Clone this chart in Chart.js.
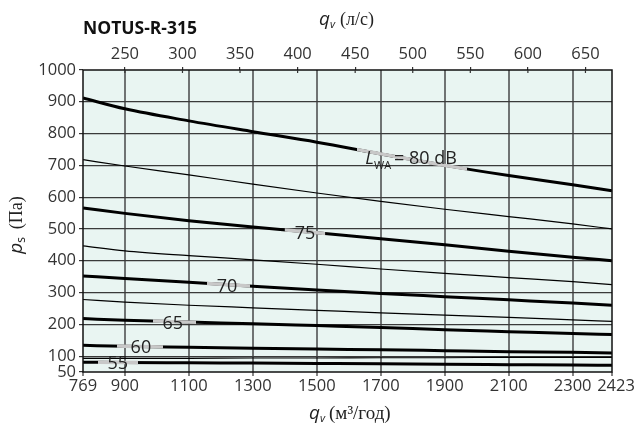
<!DOCTYPE html>
<html><head><meta charset="utf-8">
<script src="https://cdn.jsdelivr.net/npm/chart.js@4/dist/chart.umd.min.js"></script>
<style>html,body{margin:0;padding:0;background:#fff}#wrap{width:636px;height:423px;position:relative}</style>
</head><body><div id="wrap"><canvas id="c" width="636" height="423"></canvas></div>
<script>
// ---- data ----
const flowM3h = [769, 900, 1100, 1300, 1500, 1700, 1900, 2100, 2300, 2423];
const db80  = [912, 878, 840, 806, 773, 736, 700, 668, 639, 620];
const db775 = [718, 698, 670, 641, 613, 587, 562, 539, 516, 500];
const db75  = [566, 549, 526, 506, 488, 469, 450, 430, 411, 400];
const db725 = [447, 431, 416, 403, 389, 374, 360, 347, 334, 325];
const db70  = [352, 344, 332, 320, 308, 297, 287, 277, 267, 260];
const db675 = [278, 270, 260, 252, 244, 236, 229, 222, 214, 209];
const db65  = [218, 213, 207, 202, 196, 190, 183, 177, 171, 168];
const db60  = [134, 131, 128, 125, 122, 120, 117, 114, 112, 110];
const db575 = [93, 93, 93, 94, 94, 95, 95, 96, 96, 96];
const db55  = [81, 80, 79, 78, 77, 76, 74, 73, 72, 71];

const bottomTicks = [769, 900, 1100, 1300, 1500, 1700, 1900, 2100, 2300, 2423];
const topTicks = [250, 300, 350, 400, 450, 500, 550, 600, 650];
const yTicks = [50, 100, 200, 300, 400, 500, 600, 700, 800, 900, 1000];

const curveLabels = ['80', '75', '70', '65', '60', '55'];
const labelFlow   = [1795, 1463, 1219, 1050, 950, 878];
const labelPs     = [726, 488, 322, 206, 131, 79];
const gapFrom     = [1626, 1400, 1157, 988, 875, 816];
const gapTo       = [1970, 1526, 1291, 1122, 1019, 941];

const titleText = 'NOTUS-R-315';
const FONT = '"Open Sans", "Noto Sans", sans-serif';
const SERIF = '"Liberation Serif", "DejaVu Serif", serif';
const TICK_SIZE = 16.5;

const series = [
  {v: db80, w: 3}, {v: db775, w: 1.2}, {v: db75, w: 3}, {v: db725, w: 1.2},
  {v: db70, w: 3}, {v: db675, w: 1.2}, {v: db65, w: 3}, {v: db60, w: 3},
  {v: db575, w: 1.1}, {v: db55, w: 3}
];
const labeledIdx = [0, 2, 4, 6, 7, 9];

const datasets = series.map(s => ({
  data: flowM3h.map((x, i) => ({x: x, y: s.v[i]})),
  borderColor: '#000', borderWidth: s.w, pointRadius: 0,
  cubicInterpolationMode: 'monotone', fill: false, xAxisID: 'x', yAxisID: 'y'
}));

function drawRich(ctx, parts, x, y, align) {
  let w = 0;
  parts.forEach(p => { ctx.font = p.font; p.w = ctx.measureText(p.t).width; w += p.w + (p.gap || 0); });
  let cx = align === 'center' ? x - w / 2 : x;
  ctx.textAlign = 'left'; ctx.textBaseline = 'alphabetic';
  parts.forEach(p => { ctx.font = p.font; ctx.fillText(p.t, cx, y + (p.dy || 0)); cx += p.w + (p.gap || 0); });
}

const bgPlugin = {
  id: 'bg',
  beforeDraw(chart) {
    const {ctx, chartArea: a} = chart;
    ctx.save(); ctx.fillStyle = '#e9f5f2';
    ctx.fillRect(a.left, a.top, a.right - a.left, a.bottom - a.top); ctx.restore();
  }
};

const lastBottom = bottomTicks[bottomTicks.length - 1];

const overlayPlugin = {
  id: 'overlay',
  afterDatasetsDraw(chart) {
    const {ctx, chartArea: a, scales} = chart;
    const xs = scales.x, ys = scales.y;
    labeledIdx.forEach((di, k) => {
      const el = chart.getDatasetMeta(di).dataset;
      const x1 = xs.getPixelForValue(gapFrom[k]), x2 = xs.getPixelForValue(gapTo[k]);
      ctx.save();
      ctx.beginPath(); ctx.rect(x1, a.top, x2 - x1, a.bottom - a.top); ctx.clip();
      ctx.beginPath(); el.path(ctx);
      ctx.strokeStyle = '#c8c8c8'; ctx.lineWidth = 3.4; ctx.lineCap = 'butt'; ctx.stroke();
      ctx.restore();
    });
    ctx.save(); ctx.fillStyle = '#222';
    labeledIdx.forEach((di, k) => {
      const px = xs.getPixelForValue(labelFlow[k]);
      const py = ys.getPixelForValue(labelPs[k]) + 6.5;
      if (k === 0) {
        drawRich(ctx, [
          {t: 'L', font: 'italic 18px ' + FONT},
          {t: 'WA', font: '11px ' + FONT, dy: 5, gap: 3},
          {t: '= 80 dB', font: '18px ' + FONT}
        ], px, py, 'center');
      } else {
        ctx.font = '18px ' + FONT; ctx.textAlign = 'center'; ctx.textBaseline = 'alphabetic';
        ctx.fillText(curveLabels[k], px, py);
      }
    });
    ctx.restore();
    ctx.save();
    ctx.strokeStyle = '#111'; ctx.lineWidth = 1.5;
    ctx.strokeRect(a.left, a.top, a.right - a.left, a.bottom - a.top);
    const x2s = scales.x2;
    ctx.lineWidth = 1.2; ctx.strokeStyle = '#333';
    topTicks.forEach(t => {
      const p = x2s.getPixelForValue(t);
      ctx.beginPath(); ctx.moveTo(p, a.top); ctx.lineTo(p, a.top + 3); ctx.stroke();
    });
    ctx.restore();
  },
  afterDraw(chart) {
    const {ctx, scales} = chart;
    ctx.save();
    ctx.fillStyle = '#333'; ctx.font = TICK_SIZE + 'px ' + FONT;
    ctx.textAlign = 'center'; ctx.textBaseline = 'middle';
    const xl = scales.x.getPixelForValue(lastBottom) + 4;
    const yl = scales.x.top + 4 + 10.5;
    ctx.fillText(String(lastBottom), xl, yl);

    ctx.fillStyle = '#111';
    ctx.font = 'bold 17.5px ' + FONT; ctx.textAlign = 'left'; ctx.textBaseline = 'alphabetic';
    ctx.fillText(titleText, 83, 34);
    ctx.fillStyle = '#222';
    drawRich(ctx, [
      {t: 'q', font: 'italic 19px ' + FONT},
      {t: 'v', font: 'italic 11px ' + FONT, dy: 3, gap: 5},
      {t: '(л/с)', font: '18px ' + SERIF}
    ], 319, 25, 'left');
    drawRich(ctx, [
      {t: 'q', font: 'italic 19px ' + FONT},
      {t: 'v', font: 'italic 11px ' + FONT, dy: 3, gap: 4},
      {t: '(м³/год)', font: '19px ' + SERIF}
    ], 309, 418.5, 'left');
    ctx.translate(22, 225);
    ctx.rotate(-Math.PI / 2);
    drawRich(ctx, [
      {t: 'p', font: 'italic 19px ' + FONT},
      {t: 's', font: '12px ' + FONT, dy: 3, gap: 8},
      {t: '(Па)', font: '18px ' + SERIF}
    ], 0, 0, 'center');
    ctx.restore();
  }
};

new Chart(document.getElementById('c'), {
  type: 'line',
  data: {datasets},
  options: {
    responsive: false, animation: false, devicePixelRatio: 1,
    layout: {padding: {left: 0, right: 24, top: 0, bottom: 0}},
    plugins: {legend: {display: false}, tooltip: {enabled: false}, title: {display: false}},
    scales: {
      x: {
        type: 'linear', position: 'bottom', min: 769, max: 2423,
        afterBuildTicks: s => { s.ticks = bottomTicks.map(v => ({value: v})); },
        afterFit: s => { s.height = 51; },
        ticks: {callback: v => (v === lastBottom ? '' : String(v)), font: {family: FONT, size: TICK_SIZE}, color: '#333', padding: 0, maxRotation: 0, autoSkip: false},
        grid: {
          color: c => (c.tick && (c.tick.value === 769 || c.tick.value === 2423)) ? 'rgba(0,0,0,0)' : '#6f7373',
          lineWidth: 2, tickColor: '#333', tickWidth: 1.2, tickLength: 4
        },
        border: {display: false}
      },
      x2: {
        type: 'linear', position: 'top', min: 769 / 3.6, max: 2423 / 3.6,
        afterBuildTicks: s => { s.ticks = topTicks.map(v => ({value: v})); },
        afterFit: s => { s.height = 70; },
        ticks: {callback: v => String(v), font: {family: FONT, size: TICK_SIZE}, color: '#333', padding: 3, maxRotation: 0, autoSkip: false},
        grid: {drawOnChartArea: false, color: '#333', lineWidth: 1.2, tickLength: 3},
        border: {display: false}
      },
      y: {
        type: 'linear', position: 'left', min: 50, max: 1000,
        afterBuildTicks: s => { s.ticks = yTicks.map(v => ({value: v})); },
        afterFit: s => { s.width = 83; },
        ticks: {callback: v => String(v), font: {family: FONT, size: TICK_SIZE}, color: '#333', padding: 3, autoSkip: false},
        grid: {
          color: c => (c.tick && (c.tick.value === 50 || c.tick.value === 1000)) ? 'rgba(0,0,0,0)' : '#3a3a3a',
          lineWidth: 1.2, tickColor: '#333', tickWidth: 1.2, tickLength: 4
        },
        border: {display: false}
      }
    }
  },
  plugins: [bgPlugin, overlayPlugin]
});
</script>
</body></html>
